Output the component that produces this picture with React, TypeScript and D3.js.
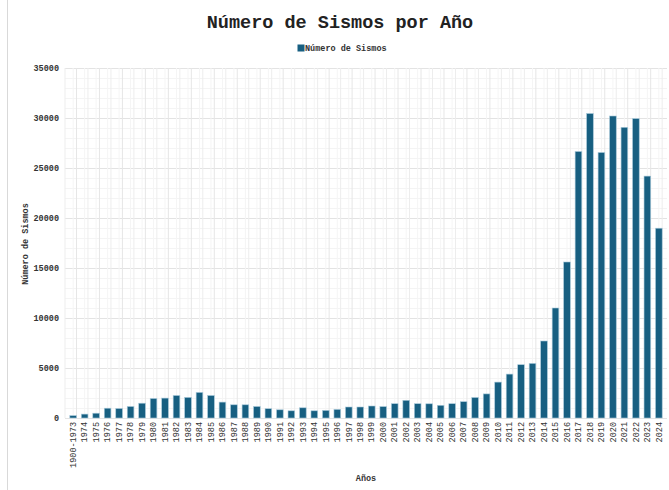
import { useEffect, useRef } from "react";
import { axisBottom, axisLeft, range, scaleBand, scaleLinear, select } from "d3";

const years = [
  "1900-1973", "1974", "1975", "1976", "1977", "1978", "1979", "1980", "1981",
  "1982", "1983", "1984", "1985", "1986", "1987", "1988", "1989", "1990",
  "1991", "1992", "1993", "1994", "1995", "1996", "1997", "1998", "1999",
  "2000", "2001", "2002", "2003", "2004", "2005", "2006", "2007", "2008",
  "2009", "2010", "2011", "2012", "2013", "2014", "2015", "2016", "2017",
  "2018", "2019", "2020", "2021", "2022", "2023", "2024",
];

const counts = [
  240, 390, 480, 980, 950, 1150, 1480, 1950, 1990, 2250, 2060, 2560, 2250,
  1590, 1320, 1320, 1150, 930, 820, 720, 1020, 720, 760, 860, 1100, 1100,
  1200, 1140, 1430, 1770, 1430, 1420, 1270, 1430, 1630, 2050, 2410, 3590,
  4390, 5330, 5460, 7700, 11000, 15600, 26650, 30450, 26550, 30200, 29070,
  29940, 24190, 18980,
];

const yTicks = [0, 5000, 10000, 15000, 20000, 25000, 30000, 35000];

const font = "'Liberation Mono', 'Courier New', monospace";
const barColor = "#175f81";

export default function App() {
  const svgRef = useRef<SVGSVGElement | null>(null);

  useEffect(() => {
    if (!svgRef.current) return;
    const svg = select(svgRef.current);
    svg.selectAll("*").remove();

    const width = 669;
    const height = 490;
    const left = 65;
    const right = 667;
    const top = 68;
    const bottom = 418;

    const x = scaleBand<string>().domain(years).range([left, right]).padding(0.42);
    const y = scaleLinear().domain([0, 35000]).range([bottom, top]);

    svg.attr("viewBox", `0 0 ${width} ${height}`);

    // frame edge on the left
    svg
      .append("line")
      .attr("x1", 7.5)
      .attr("x2", 7.5)
      .attr("y1", 0)
      .attr("y2", height)
      .attr("stroke", "#d9d9d9");

    const grid = svg.append("g");
    grid
      .selectAll("line.minor")
      .data(range(0, 35001, 1000))
      .join("line")
      .attr("class", "minor")
      .attr("x1", left)
      .attr("x2", right)
      .attr("y1", (d) => y(d) + 0.5)
      .attr("y2", (d) => y(d) + 0.5)
      .attr("stroke", (d) => (d % 5000 === 0 ? "#e3e3e3" : "#f4f4f4"));

    const step = x.step();
    grid
      .selectAll("line.vcenter")
      .data(years)
      .join("line")
      .attr("class", "vcenter")
      .attr("x1", (d) => (x(d) ?? 0) + x.bandwidth() / 2)
      .attr("x2", (d) => (x(d) ?? 0) + x.bandwidth() / 2)
      .attr("y1", top)
      .attr("y2", bottom)
      .attr("stroke", "#f5f5f5");
    grid
      .selectAll("line.vbound")
      .data(years.concat(["end"]))
      .join("line")
      .attr("class", "vbound")
      .attr("x1", (_, i) => left + i * step)
      .attr("x2", (_, i) => left + i * step)
      .attr("y1", top)
      .attr("y2", bottom)
      .attr("stroke", (_, i) => (i % 2 === 1 ? "#e6e6e6" : "#ededed"));

    svg
      .append("g")
      .selectAll("rect")
      .data(counts)
      .join("rect")
      .attr("x", (_, i) => x(years[i]) ?? 0)
      .attr("y", (d) => y(d))
      .attr("width", x.bandwidth())
      .attr("height", (d) => bottom - y(d))
      .attr("fill", barColor)
      .attr("stroke", "#a9cadb")
      .attr("stroke-width", 0.6);

    const yAxis = svg
      .append("g")
      .attr("transform", `translate(${left},0)`)
      .call(axisLeft(y).tickValues(yTicks).tickSize(0).tickPadding(6).tickFormat((d) => String(d)));
    yAxis.select(".domain").remove();
    yAxis
      .selectAll("text")
      .attr("font-family", font)
      .attr("font-size", 8.5)
      .attr("font-weight", "bold")
      .attr("fill", "#333");

    const xAxis = svg
      .append("g")
      .attr("transform", `translate(0,${bottom})`)
      .call(axisBottom(x).tickSize(0));
    xAxis.select(".domain").remove();
    xAxis
      .selectAll("text")
      .attr("font-family", font)
      .attr("font-size", 8.5)
      .attr("fill", "#333")
      .attr("text-anchor", "end")
      .attr("dy", "0.32em")
      .attr("transform", "translate(0,4) rotate(-90)")
      .attr("x", 0)
      .attr("y", 0);

    svg
      .append("text")
      .attr("x", 340)
      .attr("y", 28)
      .attr("text-anchor", "middle")
      .attr("font-family", font)
      .attr("font-size", 18.5)
      .attr("font-weight", "bold")
      .attr("fill", "#222")
      .text("Número de Sismos por Año");

    svg
      .append("rect")
      .attr("x", 297.5)
      .attr("y", 44.5)
      .attr("width", 7)
      .attr("height", 7)
      .attr("fill", barColor);
    svg
      .append("text")
      .attr("x", 305)
      .attr("y", 51)
      .attr("font-family", font)
      .attr("font-size", 8.5)
      .attr("font-weight", "bold")
      .attr("fill", "#333")
      .text("Número de Sismos");

    svg
      .append("text")
      .attr("x", (left + right) / 2)
      .attr("y", 481)
      .attr("text-anchor", "middle")
      .attr("font-family", font)
      .attr("font-size", 8.5)
      .attr("font-weight", "bold")
      .attr("fill", "#333")
      .text("Años");

    svg
      .append("text")
      .attr("transform", "translate(28,244) rotate(-90)")
      .attr("text-anchor", "middle")
      .attr("font-family", font)
      .attr("font-size", 8.5)
      .attr("font-weight", "bold")
      .attr("fill", "#333")
      .text("Número de Sismos");
  }, []);

  return (
    <svg
      ref={svgRef}
      width={669}
      height={490}
      style={{ position: "absolute", left: 0, top: 0, background: "#fff" }}
      aria-label="Número de Sismos por Año"
    />
  );
}
